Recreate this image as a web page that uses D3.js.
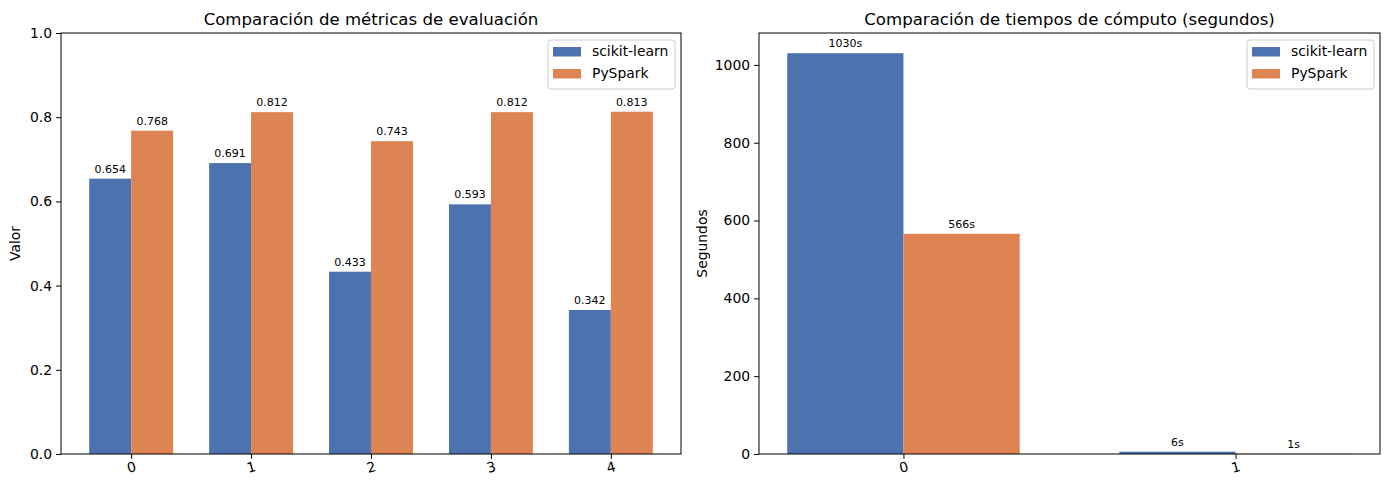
<!DOCTYPE html>
<html>
<head>
<meta charset="utf-8">
<script src="https://cdn.jsdelivr.net/npm/d3@7"></script>
<style>
body { margin: 0; background: white; }
text { font-family: "DejaVu Sans", sans-serif; fill: #000; }
</style>
</head>
<body>
<script>
// data
var series = ["scikit-learn", "PySpark"];
var colors = ["#4C72B0", "#DD8452"];
var metricCats = [0, 1, 2, 3, 4];
var metricSk = [0.654, 0.691, 0.433, 0.593, 0.342];
var metricPs = [0.768, 0.812, 0.743, 0.812, 0.813];
var metricTicks = [0, 0.2, 0.4, 0.6, 0.8, 1.0];
var timeCats = [0, 1];
var timeSk = [1030, 6];
var timePs = [566, 1];
var timeTicks = [0, 200, 400, 600, 800, 1000];

var W = 1389, H = 490;
var svg = d3.select("body").append("svg")
  .attr("width", W).attr("height", H);

var barW = 0.35;

function panel(opt) {
  var g = svg.append("g");
  var x = d3.scaleLinear().domain(opt.xdom).range([opt.left, opt.right]);
  var y = d3.scaleLinear().domain(opt.ydom).range([opt.bottom, opt.top]);

  var vals = [opt.sk, opt.ps];
  vals.forEach(function(arr, s) {
    var off = s == 0 ? -barW / 2 : barW / 2;
    g.selectAll(null).data(arr).join("rect")
      .attr("x", function(d, i) { return x(opt.cats[i] + off - barW / 2); })
      .attr("width", function() { return x(barW) - x(0); })
      .attr("y", function(d) { return y(d); })
      .attr("height", function(d) { return y(0) - y(d); })
      .attr("fill", colors[s]);
    g.selectAll(null).data(arr).join("text")
      .attr("x", function(d, i) { return x(opt.cats[i] + off); })
      .attr("y", function(d) { return y(d) - 6; })
      .attr("text-anchor", "middle")
      .style("font-size", "11px")
      .text(opt.fmt);
  });

  // axes
  var yAxis = d3.axisLeft(y).tickValues(opt.yticks).tickFormat(opt.yfmt).tickSize(4.9).tickPadding(4);
  var ya = g.append("g").attr("transform", "translate(" + opt.left + ",0)").call(yAxis);
  ya.select(".domain").remove();
  ya.selectAll("text").style("font-size", "13.9px").style("font-family", "DejaVu Sans");
  ya.selectAll("line").attr("stroke", "#000");

  var xAxis = d3.axisBottom(x).tickValues(opt.cats).tickFormat(d3.format("d")).tickSize(4.9).tickPadding(0);
  var xa = g.append("g").attr("transform", "translate(0," + opt.bottom + ")").call(xAxis);
  xa.select(".domain").remove();
  xa.selectAll("line").attr("stroke", "#000");
  xa.selectAll("text")
    .style("font-size", "13.9px").style("font-family", "DejaVu Sans")
    .attr("y", 0).attr("dy", 0)
    .attr("transform", "translate(0,14) rotate(-15)")
    .attr("dominant-baseline", "middle");

  g.append("rect")
    .attr("x", opt.left).attr("y", opt.top)
    .attr("width", opt.right - opt.left).attr("height", opt.bottom - opt.top)
    .attr("fill", "none").attr("stroke", "#000").attr("stroke-width", 1);

  g.append("text")
    .attr("x", (opt.left + opt.right) / 2).attr("y", 25)
    .attr("text-anchor", "middle").style("font-size", "16.6px")
    .text(opt.title);

  g.append("text")
    .attr("transform", "translate(" + opt.ylabX + "," + (opt.top + opt.bottom) / 2 + ") rotate(-90)")
    .attr("text-anchor", "middle").style("font-size", "13.9px")
    .text(opt.ylabel);

  // legend
  var lx = opt.right - 133, ly = 40;
  g.append("rect").attr("x", lx).attr("y", ly).attr("width", 127).attr("height", 49)
    .attr("rx", 3).attr("fill", "white").attr("fill-opacity", 0.8)
    .attr("stroke", "#ccc").attr("stroke-width", 1);
  series.forEach(function(name, i) {
    g.append("rect").attr("x", lx + 5).attr("y", ly + 7 + i * 22)
      .attr("width", 28).attr("height", 9.5).attr("fill", colors[i]);
    g.append("text").attr("x", lx + 44).attr("y", ly + 16 + i * 22)
      .style("font-size", "13.9px").text(name);
  });
}

panel({
  left: 61, right: 681, top: 33, bottom: 454,
  xdom: [-0.585, 4.585], ydom: [0, 1],
  cats: metricCats, sk: metricSk, ps: metricPs,
  yticks: metricTicks, yfmt: d3.format(".1f"),
  fmt: function(d) { return d3.format(".3f")(d); },
  title: "Comparación de métricas de evaluación",
  ylabel: "Valor", ylabX: 20
});

panel({
  left: 759, right: 1380, top: 33, bottom: 454,
  xdom: [-0.435, 1.435], ydom: [0, 1082],
  cats: timeCats, sk: timeSk, ps: timePs,
  yticks: timeTicks, yfmt: d3.format("d"),
  fmt: function(d) { return Math.round(d) + "s"; },
  title: "Comparación de tiempos de cómputo (segundos)",
  ylabel: "Segundos", ylabX: 707
});
</script>
</body>
</html>
